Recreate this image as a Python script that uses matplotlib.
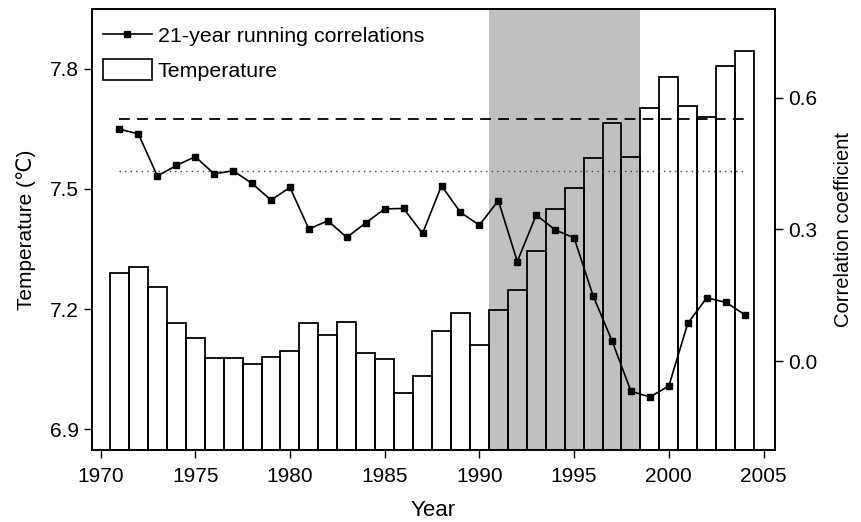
import matplotlib.pyplot as plt
from matplotlib.lines import Line2D
from matplotlib.patches import Patch

plt.rcParams['font.family'] = ['Liberation Sans', 'DejaVu Sans']

# Data
years = list(range(1971, 2005))
temperature = [7.289, 7.306, 7.254, 7.164, 7.127, 7.077, 7.077, 7.063, 7.079, 7.095,
               7.166, 7.134, 7.167, 7.089, 7.074, 6.989, 7.033, 7.145, 7.191, 7.110,
               7.198, 7.248, 7.345, 7.449, 7.503, 7.577, 7.666, 7.579, 7.702, 7.780,
               7.708, 7.679, 7.808, 7.845]
running_corr = [0.529, 0.518, 0.422, 0.446, 0.466, 0.427, 0.434, 0.405, 0.367, 0.396,
                0.301, 0.320, 0.282, 0.315, 0.347, 0.348, 0.291, 0.400, 0.339, 0.310,
                0.366, 0.227, 0.333, 0.299, 0.281, 0.149, 0.046, -0.069, -0.082, -0.057,
                0.086, 0.144, 0.134, 0.106]
sig_99 = 0.551   # dashed threshold
sig_95 = 0.433   # dotted threshold
shade_span = (1990.5, 1998.5)

fig = plt.figure(figsize=(8.62, 5.22), dpi=100)
ax = fig.add_axes([0.1067, 0.1379, 0.7923, 0.8449])
ax2 = ax.twinx()

ax.axvspan(*shade_span, color='#c0c0c0', lw=0, zorder=0)
ybot = 6.8475
ax.bar(years, [t - ybot for t in temperature], bottom=ybot, width=1.0,
       facecolor='none', edgecolor='black', linewidth=1.3, zorder=2)
ax.set_xlim(1969.55, 2005.6)
ax.set_ylim(ybot, 7.95)
ax.set_xticks(range(1970, 2006, 5))
ax.set_yticks([6.9, 7.2, 7.5, 7.8])
ax.set_xlabel('Year', fontsize=16, labelpad=10)
ax.set_ylabel('Temperature (\u2103)', fontsize=15, labelpad=10)

ax2.plot([years[0], years[-1]], [sig_99, sig_99], color='black', ls=(0, (6, 4)), lw=1.3)
ax2.plot([years[0], years[-1]], [sig_95, sig_95], color='#444444', ls=(0, (1, 3)), lw=1.0)
ax2.plot(years, running_corr, color='black', lw=1.2, marker='s', markersize=5)
ax2.set_ylim(-0.203, 0.803)
ax2.set_yticks([0.0, 0.3, 0.6])
ax2.set_ylabel('Correlation coefficient', fontsize=14.5, labelpad=12)

for a in (ax, ax2):
    a.tick_params(direction='out', length=6, width=1, labelsize=15)
    for s in a.spines.values():
        s.set_linewidth(1.2)
ax.tick_params(axis='x', pad=6)

handles = [Line2D([], [], color='black', lw=1.2, marker='s', markersize=5),
           Patch(facecolor='white', edgecolor='black', linewidth=1.2)]
ax2.legend(handles, ['21-year running correlations', 'Temperature'],
           loc='upper left', bbox_to_anchor=(-0.006, 0.998), frameon=False,
           fontsize=15.4, handlelength=2.3, handleheight=1.1, handletextpad=0.27,
           borderaxespad=0.3, labelspacing=0.6)

fig.savefig('out.png', dpi=100)
